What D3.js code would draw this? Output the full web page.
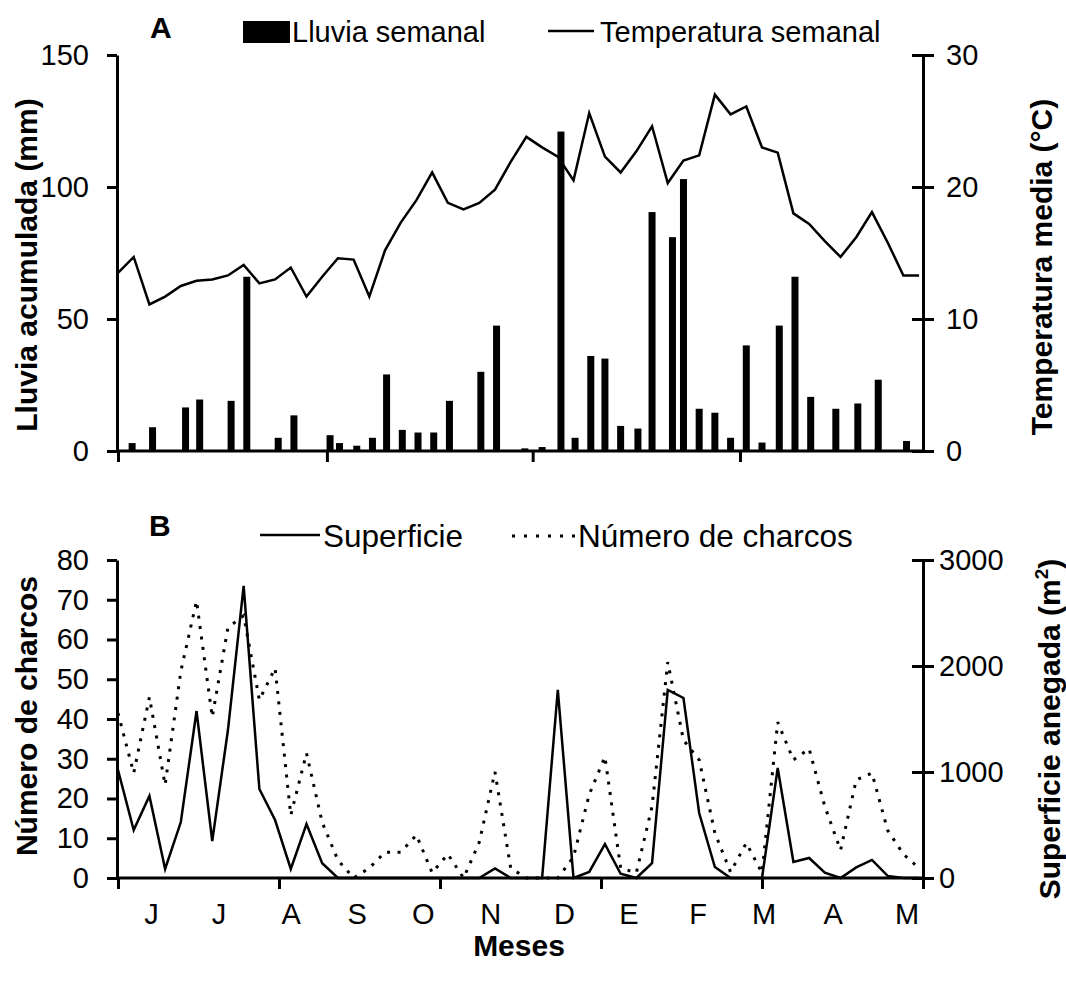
<!DOCTYPE html>
<html>
<head>
<meta charset="utf-8">
<script src="https://cdn.jsdelivr.net/npm/d3@7"></script>
<style>
  body { margin: 0; background: #fff; }
  svg text { font-family: "Liberation Sans", Arial, Helvetica, sans-serif; fill: #000; }
</style>
</head>
<body>
<script>
// ---- data ----
// panel A: weekly temperature (deg C), one value per week starting in June
var tempWeekly = [13.5, 14.7, 11.1, 11.7, 12.5, 12.9, 13.0, 13.3, 14.1, 12.7, 13.0, 13.9, 11.7,
                  13.2, 14.6, 14.5, 11.7, 15.2, 17.3, 19.0, 21.1, 18.8, 18.3, 18.8, 19.8, 21.9,
                  23.8, 23.0, 22.3, 20.5, 25.6, 22.3, 21.1, 22.7, 24.6, 20.3, 22.0, 22.4, 27.0,
                  25.5, 26.1, 23.0, 22.6, 18.0, 17.2, 15.9, 14.7, 16.2, 18.1, 15.8, 13.3, 13.3];

// panel A: weekly rain, position (week) and amount (mm)
var rainWeek = [0.9, 2.2, 4.3, 5.2, 7.2, 8.2, 10.2, 11.2, 13.5, 14.1, 15.2, 16.2, 17.1, 18.1,
                19.1, 20.1, 21.1, 23.1, 24.1, 25.9, 27.0, 28.2, 29.1, 30.1, 31.0, 32.0, 33.1,
                34.0, 35.3, 36.0, 37.0, 38.0, 39.0, 40.0, 41.0, 42.1, 43.1, 44.1, 45.7, 47.1,
                48.4, 50.2];
var rainMm = [3, 9, 16.5, 19.5, 19, 66, 5, 13.5, 6, 3, 2, 5, 29, 8,
              7, 7, 19, 30, 47.5, 1, 1.5, 121, 5, 36, 35, 9.5, 8.5,
              90.5, 81, 103, 16, 14.5, 5, 40, 3.2, 47.5, 66, 20.5, 16, 18,
              27, 3.8];

// panel B: flooded surface (m2) and number of ponds, weekly
var superficie = [1019, 453, 774, 85, 528, 1575, 349, 1396, 2755, 840, 547, 85, 509,
                  140, 0, 0, 0, 0, 0, 0, 0, 0, 0, 0, 90, 0,
                  0, 0, 1774, 0, 57, 320, 40, 0, 140, 1774, 1698, 613, 104,
                  0, 0, 0, 1038, 151, 189, 50, 0, 100, 170, 20, 0, 0];
var charcos = [41.5, 26.4, 45.5, 23.4, 52, 69.7, 40.5, 63, 66, 44.8, 52.8, 15.8, 31.4,
               14, 4.5, 0, 2.5, 6.5, 6.5, 10.8, 1.3, 6, 0, 9, 26.7, 2.5,
               0, 0, 0, 5.3, 21, 30.5, 2.5, 1.3, 18, 54.3, 34.7, 29.7, 11.3,
               1.5, 8.8, 1.3, 39.2, 29.7, 32.5, 18, 7, 24.7, 26.4, 12, 6, 2.5];

// axes
var monthLabels = ["J", "J", "A", "S", "O", "N", "D", "E", "F", "M", "A", "M"];
var monthWeek = [2.1, 6.4, 11.0, 15.2, 19.4, 23.7, 28.4, 32.5, 36.9, 41.1, 45.5, 50.2];
var topTickWeek = [0, 13.3, 26.4, 39.6];
var bottomTickWeek = [0, 10.25, 20.5, 30.75, 41, 51.25];
var rainTicks = [0, 50, 100, 150];
var tempTicks = [0, 10, 20, 30];
var charcoTicks = [0, 10, 20, 30, 40, 50, 60, 70, 80];
var supTicks = [0, 1000, 2000, 3000];

var W = 1066, H = 987;
var left = 117, right = 923;

var svg = d3.select("body").append("svg")
    .attr("width", W)
    .attr("height", H);

svg.append("rect").attr("width", W).attr("height", H).attr("fill", "#fff");

var x = d3.scaleLinear().domain([0, 51.25]).range([left + 1, right]);

var yRain = d3.scaleLinear().domain([0, 150]).range([451, 55]);
var yTemp = d3.scaleLinear().domain([0, 30]).range([451, 55]);
var yCharco = d3.scaleLinear().domain([0, 80]).range([878, 560]);
var ySup = d3.scaleLinear().domain([0, 3000]).range([878, 560]);

function styleAxis(g) {
  g.select(".domain").attr("stroke", "#000").attr("stroke-width", 3);
  g.selectAll(".tick line").attr("stroke", "#000").attr("stroke-width", 3);
  g.selectAll(".tick text").attr("font-size", 29).attr("fill", "#000")
    .attr("font-family", "'Liberation Sans', Arial, sans-serif");
}

// ===== panel A =====
svg.append("g").selectAll("rect")
    .data(rainMm)
  .enter().append("rect")
    .attr("x", function(d, i) { return x(rainWeek[i]) - 3.5; })
    .attr("width", 7)
    .attr("y", function(d) { return yRain(d); })
    .attr("height", function(d) { return yRain(0) - yRain(d); })
    .attr("fill", "#000");

var tempLine = d3.line()
    .x(function(d, i) { return x(i); })
    .y(function(d) { return yTemp(d); });

svg.append("path")
    .datum(tempWeekly)
    .attr("d", tempLine)
    .attr("fill", "none")
    .attr("stroke", "#000")
    .attr("stroke-width", 2.5);

// x axis A (ticks only)
var gxA = svg.append("g")
    .attr("transform", "translate(0," + yRain(0) + ")")
    .call(d3.axisBottom(x).tickValues(topTickWeek).tickSize(11).tickSizeOuter(0).tickFormat(""));
gxA.select(".domain").attr("d", "M" + left + ",0H" + right);
styleAxis(gxA);

var gyA = svg.append("g")
    .attr("transform", "translate(" + left + ",0)")
    .call(d3.axisLeft(yRain).tickValues(rainTicks).tickSize(10).tickSizeOuter(0).tickPadding(18));
styleAxis(gyA);

var gyA2 = svg.append("g")
    .attr("transform", "translate(" + right + ",0)")
    .call(d3.axisRight(yTemp).tickValues(tempTicks).tickSize(11).tickSizeOuter(0).tickPadding(12));
gyA2.selectAll(".tick line").attr("x1", -11);
styleAxis(gyA2);

// ===== panel B =====
var supLine = d3.line()
    .x(function(d, i) { return x(i); })
    .y(function(d) { return ySup(d); });
var charcoLine = d3.line()
    .x(function(d, i) { return x(i); })
    .y(function(d) { return yCharco(d); });

svg.append("path")
    .datum(charcos)
    .attr("d", charcoLine)
    .attr("fill", "none")
    .attr("stroke", "#000")
    .attr("stroke-width", 3)
    .attr("stroke-dasharray", "3,7.5");

svg.append("path")
    .datum(superficie)
    .attr("d", supLine)
    .attr("fill", "none")
    .attr("stroke", "#000")
    .attr("stroke-width", 2.5);

var gxB = svg.append("g")
    .attr("transform", "translate(0," + yCharco(0) + ")")
    .call(d3.axisBottom(x).tickValues(bottomTickWeek).tickSize(11).tickSizeOuter(0).tickFormat(""));
gxB.select(".domain").attr("d", "M" + left + ",0H" + right);
styleAxis(gxB);

// month labels
var gm = svg.append("g")
    .attr("transform", "translate(0," + yCharco(0) + ")")
    .call(d3.axisBottom(x).tickValues(monthWeek).tickSize(0).tickPadding(25)
      .tickFormat(function(d, i) { return monthLabels[i]; }));
gm.select(".domain").remove();
styleAxis(gm);

var gyB = svg.append("g")
    .attr("transform", "translate(" + left + ",0)")
    .call(d3.axisLeft(yCharco).tickValues(charcoTicks).tickSize(10).tickSizeOuter(0).tickPadding(18));
styleAxis(gyB);

var gyB2 = svg.append("g")
    .attr("transform", "translate(" + right + ",0)")
    .call(d3.axisRight(ySup).tickValues(supTicks).tickSize(11).tickSizeOuter(0).tickPadding(5)
      .tickFormat(d3.format("d")));
gyB2.selectAll(".tick line").attr("x1", -11);
styleAxis(gyB2);

// ===== titles =====
function vTitle(txt, xPos, yMid) {
  return svg.append("text")
    .attr("transform", "translate(" + xPos + "," + yMid + ") rotate(-90)")
    .attr("text-anchor", "middle")
    .attr("font-size", 30)
    .attr("font-weight", "bold")
    .text(txt);
}
vTitle("Lluvia acumulada (mm)", 37, 265);
vTitle("Temperatura media (°C)", 1052, 267);
vTitle("Número de charcos", 37, 716);
var supTitle = vTitle("Superficie anegada (m", 1060, 729);
supTitle.append("tspan").attr("font-size", 19).attr("dy", -12).text("2");
supTitle.append("tspan").attr("dy", 12).text(")");

svg.append("text")
    .attr("x", 519).attr("y", 956)
    .attr("text-anchor", "middle")
    .attr("font-size", 30)
    .attr("font-weight", "bold")
    .text("Meses");

svg.append("text").attr("x", 150).attr("y", 38)
    .attr("font-size", 30).attr("font-weight", "bold").text("A");
svg.append("text").attr("x", 149).attr("y", 536)
    .attr("font-size", 30).attr("font-weight", "bold").text("B");

// ===== legends =====
svg.append("rect").attr("x", 243).attr("y", 21).attr("width", 47).attr("height", 22).attr("fill", "#000");
svg.append("text").attr("x", 292).attr("y", 42).attr("font-size", 29).text("Lluvia semanal");

svg.append("line").attr("x1", 548).attr("x2", 594).attr("y1", 31).attr("y2", 31)
    .attr("stroke", "#000").attr("stroke-width", 2.5);
svg.append("text").attr("x", 600).attr("y", 42).attr("font-size", 29).text("Temperatura semanal");

svg.append("line").attr("x1", 260).attr("x2", 320).attr("y1", 535).attr("y2", 535)
    .attr("stroke", "#000").attr("stroke-width", 2.5);
svg.append("text").attr("x", 323).attr("y", 547).attr("font-size", 31.5).text("Superficie");

svg.append("line").attr("x1", 512).attr("x2", 576).attr("y1", 536).attr("y2", 536)
    .attr("stroke", "#000").attr("stroke-width", 3).attr("stroke-dasharray", "3,9");
svg.append("text").attr("x", 578).attr("y", 547).attr("font-size", 31.5).text("Número de charcos");
</script>
</body>
</html>
